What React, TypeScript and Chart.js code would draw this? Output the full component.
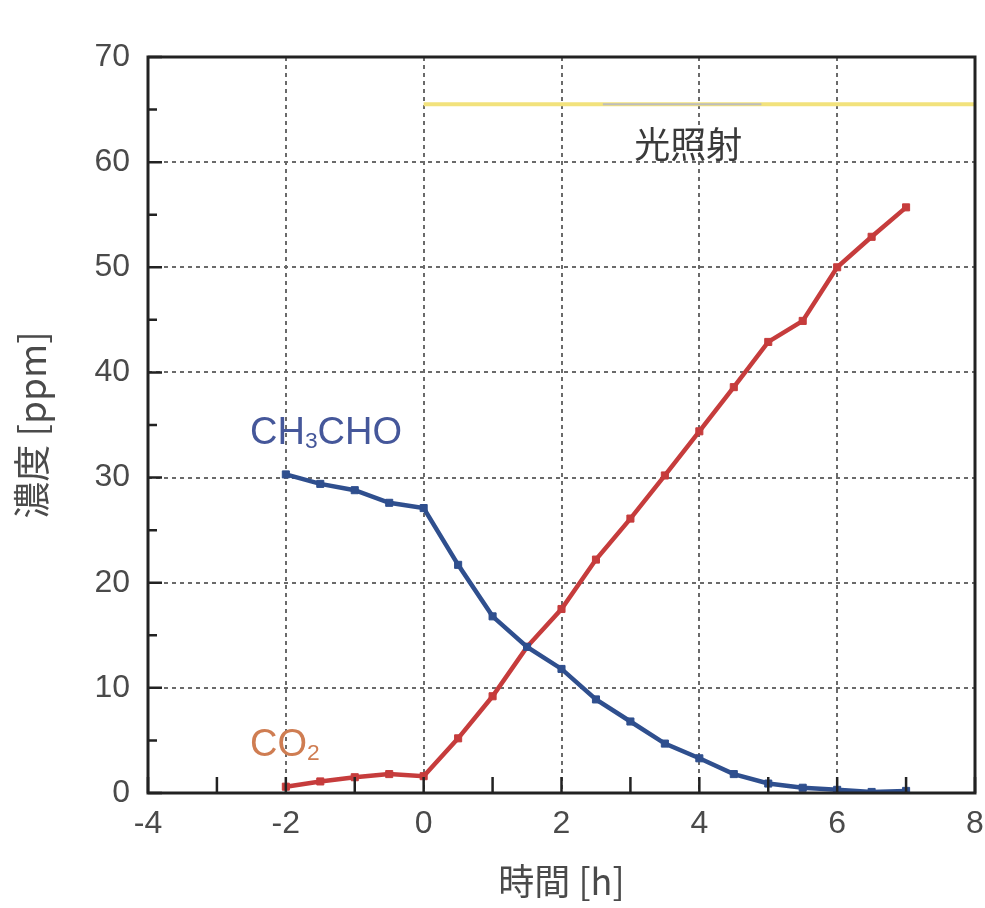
import { useEffect, useRef } from "react";
import { Chart, registerables } from "chart.js";

Chart.register(...registerables);

// ---- data ----
const hours = [-2, -1.5, -1, -0.5, 0, 0.5, 1, 1.5, 2, 2.5, 3, 3.5, 4, 4.5, 5, 5.5, 6, 6.5, 7];
const ch3choValues = [30.3, 29.4, 28.8, 27.6, 27.1, 21.7, 16.8, 13.9, 11.8, 8.9, 6.8, 4.7, 3.3, 1.8, 0.9, 0.5, 0.3, 0.1, 0.2];
const co2Values = [0.6, 1.1, 1.5, 1.8, 1.6, 5.2, 9.2, 13.9, 17.5, 22.2, 26.1, 30.2, 34.4, 38.6, 42.9, 44.9, 50.0, 52.9, 55.7];
const irradiationX = [0, 8];
const irradiationY = [65.5, 65.5];
const irradiationGapX = [2.6, 4.9];
const xMajorTicks = [-4, -2, 0, 2, 4, 6, 8];
const xMinorTicks = [-3, -1, 1, 3, 5, 7];
const yMajorTicks = [0, 10, 20, 30, 40, 50, 60, 70];
const yMinorTicks = [5, 15, 25, 35, 45, 55, 65];

const BLUE = "#2f4f8e";
const RED = "#c63c3c";
const TEXT = "#4a4a4a";
const LATIN = '"Liberation Sans", Arial, sans-serif';
const CJK = '"Noto Sans CJK JP", "Noto Sans", sans-serif';

function drawParts(ctx: CanvasRenderingContext2D, parts: [string, boolean][], x: number, y: number, size: number) {
  let cx = x;
  for (const [t, sub] of parts) {
    const s = sub ? size * 0.6 : size;
    ctx.font = `${s}px ${LATIN}`;
    ctx.fillText(t, cx, sub ? y + size * 0.22 : y);
    cx += ctx.measureText(t).width;
  }
}

const decorPlugin = {
  id: "decor",
  afterDatasetsDraw(chart: any) {
    const { ctx, chartArea: a, scales } = chart;
    const xs = scales.x;
    const ys = scales.y;
    ctx.save();
    // frame
    ctx.strokeStyle = "#222";
    ctx.lineWidth = 3;
    ctx.setLineDash([]);
    ctx.strokeRect(a.left, a.top, a.right - a.left, a.bottom - a.top);
    // ticks (inward)
    ctx.lineWidth = 2.5;
    ctx.strokeStyle = "#222";
    ctx.beginPath();
    for (const v of xMajorTicks) {
      const px = xs.getPixelForValue(v);
      ctx.moveTo(px, a.bottom);
      ctx.lineTo(px, a.bottom - 16);
    }
    for (const v of xMinorTicks) {
      const px = xs.getPixelForValue(v);
      ctx.moveTo(px, a.bottom);
      ctx.lineTo(px, a.bottom - 16);
    }
    for (const v of yMajorTicks) {
      const py = ys.getPixelForValue(v);
      ctx.moveTo(a.left, py);
      ctx.lineTo(a.left + 14, py);
    }
    for (const v of yMinorTicks) {
      const py = ys.getPixelForValue(v);
      ctx.moveTo(a.left, py);
      ctx.lineTo(a.left + 9, py);
    }
    ctx.stroke();

    // labels
    ctx.textBaseline = "middle";
    ctx.textAlign = "left";
    ctx.fillStyle = "#45579a";
    drawParts(ctx, [["CH", false], ["3", true], ["CHO", false]], xs.getPixelForValue(-2.52), ys.getPixelForValue(34.2), 38);
    ctx.fillStyle = "#cf7d52";
    drawParts(ctx, [["CO", false], ["2", true]], xs.getPixelForValue(-2.52), ys.getPixelForValue(4.5), 38);

    ctx.fillStyle = "#3a3a3a";
    ctx.textAlign = "center";
    ctx.font = `36px ${CJK}`;
    ctx.fillText("光照射", xs.getPixelForValue(3.84), ys.getPixelForValue(61.7));
    ctx.restore();
  },
};

export default function App() {
  const ref = useRef<HTMLCanvasElement | null>(null);

  useEffect(() => {
    document.body.style.margin = "0";
    const canvas = ref.current;
    if (!canvas) return;
    const chart = new Chart(canvas, {
      type: "scatter",
      data: {
        datasets: [
          {
            label: "光照射",
            data: irradiationX.map((x, i) => ({ x, y: irradiationY[i] })),
            showLine: true,
            borderColor: "#f2e27c",
            borderWidth: 4,
            pointRadius: 0,
            order: 3,
          },
          {
            label: "gap",
            data: irradiationGapX.map((x) => ({ x, y: irradiationY[0] })),
            showLine: true,
            borderColor: "#bdbdbd",
            borderWidth: 2,
            pointRadius: 0,
            order: 2,
          },
          {
            label: "CO2",
            data: hours.map((x, i) => ({ x, y: co2Values[i] })),
            showLine: true,
            borderColor: RED,
            backgroundColor: RED,
            borderWidth: 4.5,
            pointStyle: "rect",
            pointRadius: 5,
            pointBorderWidth: 1,
            order: 1,
          },
          {
            label: "CH3CHO",
            data: hours.map((x, i) => ({ x, y: ch3choValues[i] })),
            showLine: true,
            borderColor: BLUE,
            backgroundColor: BLUE,
            borderWidth: 4.5,
            pointStyle: "rect",
            pointRadius: 5,
            pointBorderWidth: 1,
            order: 0,
          },
        ],
      },
      options: {
        animation: false,
        responsive: false,
        maintainAspectRatio: false,
        layout: { autoPadding: false, padding: { left: 0, right: 10, top: 57, bottom: 0 } },
        plugins: { legend: { display: false }, tooltip: { enabled: false } },
        scales: {
          x: {
            type: "linear",
            min: -4,
            max: 8,
            afterFit: (s: any) => {
              s.height = 115;
              s.paddingLeft = 0;
              s.paddingRight = 0;
            },
            afterBuildTicks: (s: any) => {
              s.ticks = xMajorTicks.map((v) => ({ value: v }));
            },
            ticks: {
              color: TEXT,
              font: { size: 32, family: LATIN },
              padding: 12,
              maxRotation: 0,
            },
            grid: { color: "#6a6a6a", lineWidth: 2, drawTicks: false },
            border: { display: false, dash: [4, 4] },
            title: {
              display: true,
              text: "時間 [h]",
              color: TEXT,
              font: { size: 36, family: CJK },
              padding: { top: 0, bottom: 5 },
            },
          },
          y: {
            type: "linear",
            min: 0,
            max: 70,
            afterFit: (s: any) => {
              s.width = 148;
              s.paddingTop = 0;
              s.paddingBottom = 0;
            },
            afterBuildTicks: (s: any) => {
              s.ticks = yMajorTicks.map((v) => ({ value: v }));
            },
            ticks: {
              color: TEXT,
              font: { size: 32, family: LATIN },
              padding: 18,
            },
            grid: { color: "#6a6a6a", lineWidth: 2, drawTicks: false },
            border: { display: false, dash: [4, 4] },
            title: {
              display: true,
              text: "濃度 [ppm]",
              color: TEXT,
              font: { size: 37, family: CJK },
              padding: { top: 10, bottom: 0 },
            },
          },
        },
      },
      plugins: [decorPlugin],
    } as any);
    return () => chart.destroy();
  }, []);

  return (
    <div style={{ position: "relative", width: 985, height: 908, background: "#fff" }}>
      <canvas ref={ref} width={985} height={908} style={{ width: 985, height: 908, display: "block" }} />
    </div>
  );
}
